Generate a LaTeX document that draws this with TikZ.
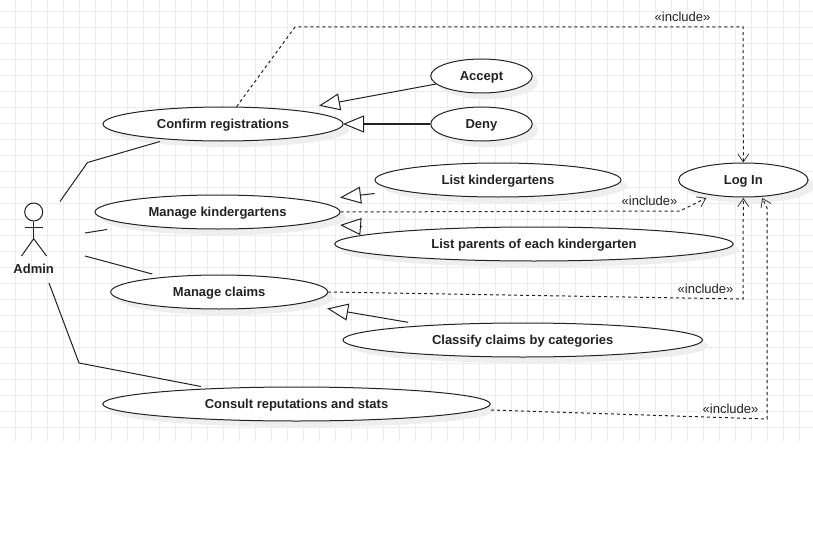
\documentclass[tikz,border=0pt]{standalone}
\usepackage{fontspec}
\setmainfont{Liberation Sans}
\usetikzlibrary{shapes.geometric,arrows.meta,shadows}
\definecolor{gridc}{HTML}{ECECEC}
\definecolor{shadowc}{HTML}{EEEEEE}
\definecolor{linec}{HTML}{222222}
\tikzset{
  x=1pt,y=-1pt,
  usecase/.style={ellipse,draw=linec,fill=white,line width=1pt,inner sep=0pt,
    font=\fontsize{13}{15}\selectfont\bfseries,text=linec,text height=10pt,text depth=1.4pt,
    general shadow={fill=shadowc,shadow xshift=6pt,shadow yshift=-6pt}},
  assoc/.style={draw=linec,line width=1pt},
  gen/.style={draw=linec,line width=1pt,-{Triangle[open,length=21pt,width=17pt,fill=white]}},
  incl/.style={draw=linec,line width=1pt,dash pattern=on 3pt off 3pt,-{Straight Barb[length=8pt,width=11pt,line width=0.7pt]}},
  incltext/.style={font=\fontsize{13}{15}\selectfont,text=linec,inner sep=0pt},
  gridline/.style={draw=gridc,line width=1pt},
}
\begin{document}
\begin{tikzpicture}
\useasboundingbox (0,0) rectangle (813,559);
\fill[white] (0,0) rectangle (813,559);
% grid
\foreach \k in {0,...,50}{\draw[gridline] ({15.5+16*\k},0) -- ({15.5+16*\k},441);}
\foreach \k in {0,...,26}{\draw[gridline] (0,{11.5+16*\k}) -- (813,{11.5+16*\k});}
% use cases
\node[usecase,minimum width=240pt,minimum height=34pt] (confirm) at (223,124) {Confirm registrations};
\node[usecase,minimum width=101.5pt,minimum height=34pt] (accept) at (481.5,76) {Accept};
\node[usecase,minimum width=101.5pt,minimum height=34pt] (deny) at (481.5,124) {Deny};
\node[usecase,minimum width=246pt,minimum height=34pt] (listk) at (498,180) {List kindergartens};
\node[usecase,minimum width=129.5pt,minimum height=34pt] (login) at (743.3,180) {Log In};
\node[usecase,minimum width=245pt,minimum height=34pt] (managek) at (217.5,212) {Manage kindergartens};
\node[usecase,minimum width=398.5pt,minimum height=34pt] (listp) at (534,244) {List parents of each kindergarten};
\node[usecase,minimum width=217pt,minimum height=34pt] (claims) at (219.2,292) {Manage claims};
\node[usecase,minimum width=359.5pt,minimum height=34pt] (classify) at (522.7,340) {Classify claims by categories};
\node[usecase,minimum width=387.5pt,minimum height=34pt] (consult) at (296.5,404) {Consult reputations and stats};
% actor
\node[circle,draw=linec,line width=1pt,fill=white,minimum size=18pt,inner sep=0pt] (head) at (33.7,212) {};
\coordinate (hip) at (33.7,238.7);
\draw[assoc] (head.south) -- (hip);
\draw[assoc] (24.7,227.7) -- (42.7,227.7);
\draw[assoc] (21.5,256) -- (hip) -- (46.5,256);
\node[font=\fontsize{13}{15}\selectfont\bfseries,text=linec,inner sep=0pt,text height=10pt,text depth=1.4pt] (admin) at (33.7,269) {Admin};
% associations
\coordinate (a1) at (60,201.5);
\coordinate (v1) at (87.5,162.5);
\coordinate (a2) at (85,233);
\coordinate (a3) at (85,256);
\coordinate (a4) at (49,283);
\coordinate (v4) at (79,363);
\draw[assoc] (a1) -- (v1) -- ([shift={(-63,17.5)}]confirm.center);
\draw[assoc] (a2) -- ([shift={(-110.5,17.5)}]managek.center);
\draw[assoc] (a3) -- ([shift={(-67,-18)}]claims.center);
\draw[assoc] (a4) -- (v4) -- ([shift={(-95.5,-17.5)}]consult.center);
% generalizations
\draw[gen] (accept.190) -- ([shift={(96,-18.3)}]confirm.center);
\draw[gen] (deny.west) -- ([shift={(120,0)}]confirm.center);
\draw[gen] ([shift={(-123.5,13.5)}]listk.center) -- ([shift={(122.5,-14.4)}]managek.center);
\draw[gen] ([shift={(-172,-17.3)}]listp.center) -- ([shift={(122.5,13)}]managek.center);
\draw[gen] ([shift={(-114.7,-17.7)}]classify.center) -- ([shift={(108,16.5)}]claims.center);
% includes
\coordinate (v5) at (295,27);
\coordinate (v6) at (743,27);
\coordinate (v7) at (680,211);
\coordinate (v8) at (743,299);
\coordinate (v9) at (767,419);
\coordinate (v10) at (767,208);
\draw[incl] (confirm.52) -- (v5) -- (v6) -- (login.north);
\draw[incl] (managek.east) -- (v7) -- ([shift={(-37,18)}]login.center);
\draw[incl] (claims.east) -- (v8) -- ([shift={(0,18)}]login.center);
\draw[incl] ([shift={(194.5,6)}]consult.center) -- (v9) -- (v10) -- ([shift={(19,18)}]login.center);
% labels
\node[incltext] (t1) at (682.5,17) {«include»};
\node[incltext] (t2) at (649.5,201) {«include»};
\node[incltext] (t3) at (705.5,289) {«include»};
\node[incltext] (t4) at (730.5,409) {«include»};
\end{tikzpicture}
\end{document}
